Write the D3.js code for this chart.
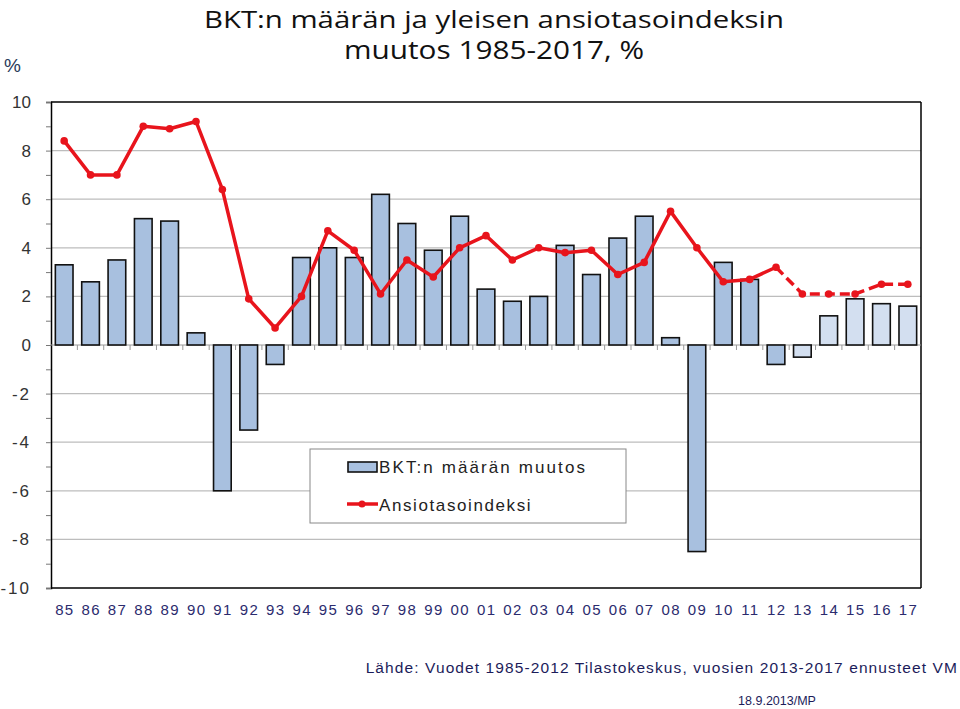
<!DOCTYPE html>
<html><head><meta charset="utf-8">
<script src="https://cdn.jsdelivr.net/npm/d3@7"></script>
<style>body{margin:0;background:#fff}svg{display:block}</style>
</head><body>
<svg id="c" width="960" height="709"></svg>
<script>
const years = ["85","86","87","88","89","90","91","92","93","94","95","96","97","98","99","00","01","02","03","04","05","06","07","08","09","10","11","12","13","14","15","16","17"];
const bkt = [3.3,2.6,3.5,5.2,5.1,0.5,-6.0,-3.5,-0.8,3.6,4.0,3.6,6.2,5.0,3.9,5.3,2.3,1.8,2.0,4.1,2.9,4.4,5.3,0.3,-8.5,3.4,2.7,-0.8,-0.5,1.2,1.9,1.7,1.6];
const ansio = [8.4,7.0,7.0,9.0,8.9,9.2,6.4,1.9,0.7,2.0,4.7,3.9,2.1,3.5,2.8,4.0,4.5,3.5,4.0,3.8,3.9,2.9,3.4,5.5,4.0,2.6,2.7,3.2,2.1,2.1,2.1,2.5,2.5];
const forecastYears = ["13","14","15","16","17"];
const yTicks = [10,8,6,4,2,0,-2,-4,-6,-8,-10];

const svg = d3.select("#c");
const L=51, R=921, T=102, B=588;
const x = d3.scaleBand().domain(years).range([L,R]).paddingInner(0.33).paddingOuter(0.165);
const y = d3.scaleLinear().domain([-10,10]).range([B,T]);

// gridlines
svg.append("g").selectAll("line").data(yTicks.filter(d=>d!==10&&d!==-10&&d!==0)).join("line")
  .attr("x1",L).attr("x2",R).attr("y1",d=>y(d)).attr("y2",d=>y(d))
  .attr("stroke","#bdbdbd").attr("stroke-width",1.2);

// y axis
const ya = svg.append("g").attr("transform",`translate(${L},0)`)
  .call(d3.axisLeft(y).tickValues(d3.range(-10,11,1)).tickSize(5).tickFormat(""));
ya.select(".domain").attr("stroke","#000").attr("stroke-width",1.5);
ya.selectAll(".tick line").attr("stroke","#777");
svg.append("g").selectAll("text").data(yTicks).join("text")
  .attr("x",31).attr("y",d=>y(d)+6).attr("text-anchor","end")
  .attr("font-family","Liberation Sans, Arial, sans-serif").attr("font-size",17)
  .attr("letter-spacing",d=>d<0?"2px":"0").attr("fill","#333").text(d=>d);

// frame top/right/bottom
svg.append("line").attr("x1",L).attr("x2",R).attr("y1",T).attr("y2",T).attr("stroke","#000").attr("stroke-width",1.5);
svg.append("line").attr("x1",R).attr("x2",R).attr("y1",T).attr("y2",B).attr("stroke","#000").attr("stroke-width",1.5);
svg.append("line").attr("x1",L).attr("x2",R).attr("y1",B).attr("y2",B).attr("stroke","#000").attr("stroke-width",1.5);

// zero line with ticks
svg.append("line").attr("x1",L).attr("x2",R).attr("y1",y(0)).attr("y2",y(0)).attr("stroke","#999").attr("stroke-width",1.2);
const step = x.step();
svg.append("g").selectAll("line").data(years.slice(1)).join("line")
  .attr("x1",d=>x(d)-x.paddingInner()*step/2).attr("x2",d=>x(d)-x.paddingInner()*step/2)
  .attr("y1",y(0)).attr("y2",y(0)+5).attr("stroke","#999").attr("stroke-width",1);

// bars
svg.append("g").selectAll("rect").data(years.map((yr,i)=>({yr,v:bkt[i]}))).join("rect")
  .attr("x",d=>x(d.yr)).attr("width",x.bandwidth())
  .attr("y",d=>y(Math.max(0,d.v))).attr("height",d=>Math.abs(y(d.v)-y(0)))
  .attr("fill",d=>forecastYears.includes(d.yr)?"#d3dff0":"#a8c0df")
  .attr("stroke","#111").attr("stroke-width",1.6);

// line
const pts = years.map((yr,i)=>({yr,v:ansio[i]}));
const lineGen = d3.line().x(d=>x(d.yr)+x.bandwidth()/2).y(d=>y(d.v));
const splitIdx = years.indexOf("12");
svg.append("path").datum(pts.slice(0,splitIdx+1)).attr("d",lineGen)
  .attr("fill","none").attr("stroke","#e8141c").attr("stroke-width",3.5).attr("stroke-linejoin","round");
svg.append("path").datum(pts.slice(splitIdx)).attr("d",lineGen)
  .attr("fill","none").attr("stroke","#e8141c").attr("stroke-width",3.5).attr("stroke-dasharray","10,5");
svg.append("g").selectAll("circle").data(pts).join("circle")
  .attr("cx",d=>x(d.yr)+x.bandwidth()/2).attr("cy",d=>y(d.v)).attr("r",3.8).attr("fill","#e8141c");

// x labels
svg.append("g").selectAll("text").data(years).join("text")
  .attr("x",d=>x(d)+x.bandwidth()/2+0.7).attr("y",615).attr("text-anchor","middle")
  .attr("font-family","Liberation Sans, Arial, sans-serif").attr("font-size",15).attr("letter-spacing","1.4px")
  .attr("fill","#2b2b6e").text(d=>d);

// legend
const lg = svg.append("g");
lg.append("rect").attr("x",310).attr("y",449).attr("width",316).attr("height",74).attr("fill","#fff").attr("stroke","#888").attr("stroke-width",1);
lg.append("rect").attr("x",348).attr("y",462).attr("width",29).attr("height",10).attr("fill","#a8c0df").attr("stroke","#111").attr("stroke-width",1.6);
lg.append("text").attr("x",379).attr("y",473).attr("font-family","Liberation Sans, Arial, sans-serif").attr("font-size",17).attr("letter-spacing","2.1px").attr("fill","#222").text("BKT:n määrän muutos");
lg.append("line").attr("x1",347).attr("x2",378).attr("y1",504).attr("y2",504).attr("stroke","#e8141c").attr("stroke-width",3.5);
lg.append("circle").attr("cx",362).attr("cy",504).attr("r",3.5).attr("fill","#e8141c");
lg.append("text").attr("x",379).attr("y",511).attr("font-family","Liberation Sans, Arial, sans-serif").attr("font-size",17).attr("letter-spacing","1.6px").attr("fill","#222").text("Ansiotasoindeksi");

// title
const tf = "Open Sans, Liberation Sans, sans-serif";
svg.append("text").attr("x",494).attr("y",28).attr("text-anchor","middle").attr("font-family",tf).attr("font-size",24).attr("fill","#111")
  .attr("textLength",580).attr("lengthAdjust","spacingAndGlyphs").text("BKT:n määrän ja yleisen ansiotasoindeksin");
svg.append("text").attr("x",494).attr("y",59).attr("text-anchor","middle").attr("font-family",tf).attr("font-size",25).attr("fill","#111")
  .attr("textLength",300).attr("lengthAdjust","spacingAndGlyphs").text("muutos 1985-2017, %");
svg.append("text").attr("x",4).attr("y",72).attr("font-family","Liberation Sans, Arial, sans-serif").attr("font-size",19).attr("fill","#2a3a5a").text("%");

// source
svg.append("text").attr("x",958).attr("y",673).attr("text-anchor","end").attr("font-family","Liberation Sans, Arial, sans-serif").attr("font-size",15.5).attr("letter-spacing","1.1px").attr("fill","#1c1c5a")
  .text("Lähde: Vuodet 1985-2012 Tilastokeskus, vuosien 2013-2017 ennusteet VM");
svg.append("text").attr("x",777).attr("y",705).attr("text-anchor","middle").attr("font-family","Liberation Sans, Arial, sans-serif").attr("font-size",12.5).attr("fill","#1c1c5a")
  .text("18.9.2013/MP");
</script>
</body></html>
